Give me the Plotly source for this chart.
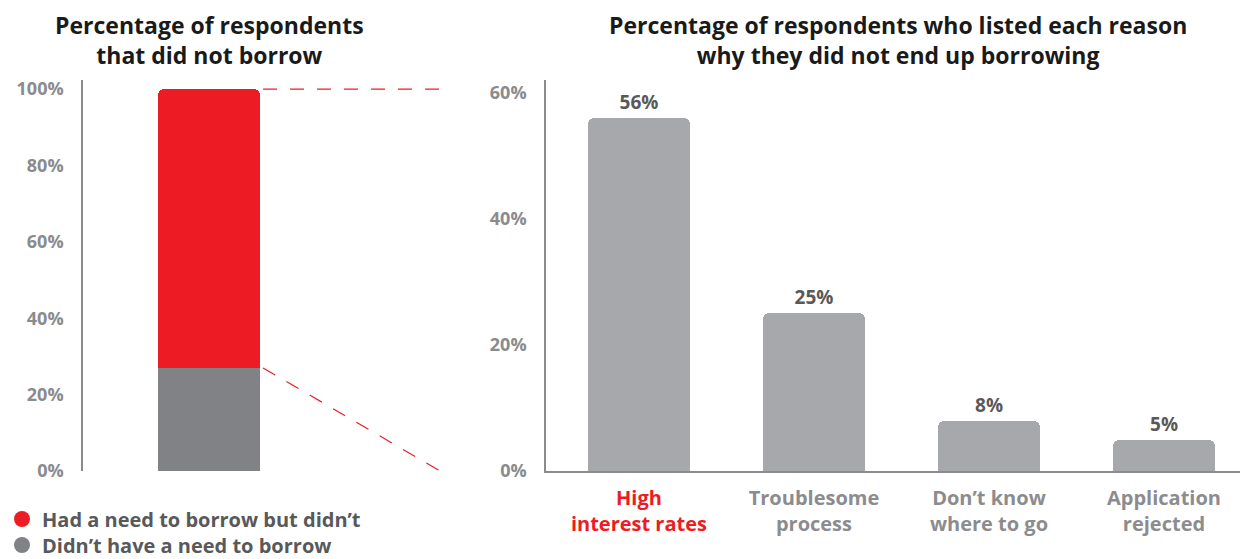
import plotly.graph_objects as go

# ---- data ----
stack_labels = ["Didn’t have a need to borrow", "Had a need to borrow but didn’t"]
stack_values = [27, 73]
stack_colors = ["#808285", "#ed1c24"]

reasons = ["High<br>interest rates", "Troublesome<br>process", "Don’t know<br>where to go", "Application<br>rejected"]
reason_values = [56, 25, 8, 5]
left_ticks = [0, 20, 40, 60, 80, 100]
right_ticks = [0, 20, 40, 60]

left_title = "Percentage of respondents<br>that did not borrow"
right_title = "Percentage of respondents who listed each reason<br>why they did not end up borrowing"

FONT = "Open Sans"
RED = "#ed1c24"
AXIS_GRAY = "#8a8b8e"
BAR_GRAY = "#a7a8ab"
DARK = "#58595b"

W, H = 1240, 551  # the page adds an 8px body margin


def px(x):
    return (x - 8) / W


def py(y):
    return 1 - (y - 8) / H


fig = go.Figure()

# left stacked bar
for lab, val, col in zip(stack_labels, stack_values, stack_colors):
    fig.add_trace(go.Bar(x=[0], y=[val], width=1, marker=dict(color=col, line=dict(width=0)),
                         name=lab, showlegend=False, xaxis="x", yaxis="y", hoverinfo="skip"))

# dashed connectors derived from data
total = sum(stack_values)
bar_edge = 0.53
conn_end = 2.265
fig.add_trace(go.Scatter(x=[bar_edge, conn_end], y=[total, total], mode="lines",
                         line=dict(color=RED, width=1.2, dash="14px,13px"), showlegend=False,
                         xaxis="x", yaxis="y", hoverinfo="skip"))
fig.add_trace(go.Scatter(x=[bar_edge, conn_end], y=[stack_values[0], 0], mode="lines",
                         line=dict(color=RED, width=1.2, dash="14px,13px"), showlegend=False,
                         xaxis="x", yaxis="y", hoverinfo="skip", cliponaxis=False))

# right bars
xs = list(range(len(reasons)))
fig.add_trace(go.Bar(x=xs, y=reason_values, width=0.583,
                     marker=dict(color=BAR_GRAY, line=dict(width=0)),
                     text=[f"{v}%" for v in reason_values], textposition="outside",
                     textfont=dict(family=FONT, size=19, color=DARK, weight="bold"),
                     cliponaxis=False, showlegend=False, xaxis="x2", yaxis="y2", hoverinfo="skip"))

# legend entries (circles), each in its own legend for exact placement
fig.add_trace(go.Scatter(x=[None], y=[None], mode="markers", name=stack_labels[1],
                         marker=dict(color=stack_colors[1], size=18, symbol="circle"),
                         xaxis="x", yaxis="y", legend="legend"))
fig.add_trace(go.Scatter(x=[None], y=[None], mode="markers", name=stack_labels[0],
                         marker=dict(color=stack_colors[0], size=18, symbol="circle"),
                         xaxis="x", yaxis="y", legend="legend2"))

ticktext = []
for i, r in enumerate(reasons):
    if i == 0:
        ticktext.append(f'<span style="color:{RED}">{r}</span>')
    else:
        ticktext.append(r)

leg_common = dict(xanchor="left", yanchor="middle", traceorder="normal",
                  font=dict(family=FONT, size=20, color=DARK, weight="bold"),
                  itemsizing="trace", tracegroupgap=0, bgcolor="rgba(0,0,0,0)")

title_font = dict(family=FONT, size=23, color="#1a1a1a", weight="bold")

ydom = [py(471), py(80)]
fig.update_layout(
    width=W, height=H,
    margin=dict(l=0, r=0, t=0, b=0, autoexpand=False),
    paper_bgcolor="white", plot_bgcolor="white",
    font=dict(family=FONT, weight="bold"),
    barmode="stack", bargap=0, barcornerradius=6,
    showlegend=True,
    legend=dict(x=-6 / W, y=py(519), **leg_common),
    legend2=dict(x=-6 / W, y=py(545), **leg_common),
    xaxis=dict(domain=[px(83), px(443.6)], range=[-1.235, 2.3], visible=False,
               fixedrange=True, automargin=False),
    yaxis=dict(domain=ydom, range=[0, 102.4], tickvals=left_ticks, automargin=False,
               ticktext=[f"{t}%" for t in left_ticks], showgrid=False, zeroline=False,
               showline=True, linecolor=AXIS_GRAY, linewidth=1.5, ticks="", ticklabelstandoff=14,
               tickfont=dict(family=FONT, size=18, color=AXIS_GRAY, weight="bold")),
    xaxis2=dict(domain=[px(546), 1.0], range=[-0.531, 3.48], anchor="y2", automargin=False,
                tickvals=xs, ticktext=ticktext, showgrid=False, zeroline=False,
                showline=True, linecolor=AXIS_GRAY, linewidth=1.5, ticks="", ticklabelstandoff=8,
                tickfont=dict(family=FONT, size=20, color="#8c8c8f", weight="bold")),
    yaxis2=dict(domain=ydom, range=[0, 62.06], anchor="x2", tickvals=right_ticks, automargin=False,
                ticktext=[f"{t}%" for t in right_ticks], showgrid=False, zeroline=False,
                showline=True, linecolor=AXIS_GRAY, linewidth=1.5, ticks="", ticklabelstandoff=14,
                tickfont=dict(family=FONT, size=18, color=AXIS_GRAY, weight="bold")),
    annotations=[
        dict(text=left_title, x=px(209), y=1.0, xref="paper", yref="paper",
             xanchor="center", yanchor="top", showarrow=False, borderpad=0, font=title_font),
        dict(text=right_title, x=px(898), y=1.0, xref="paper", yref="paper",
             xanchor="center", yanchor="top", showarrow=False, borderpad=0, font=title_font),
    ],
)

fig.write_html("out.html")
